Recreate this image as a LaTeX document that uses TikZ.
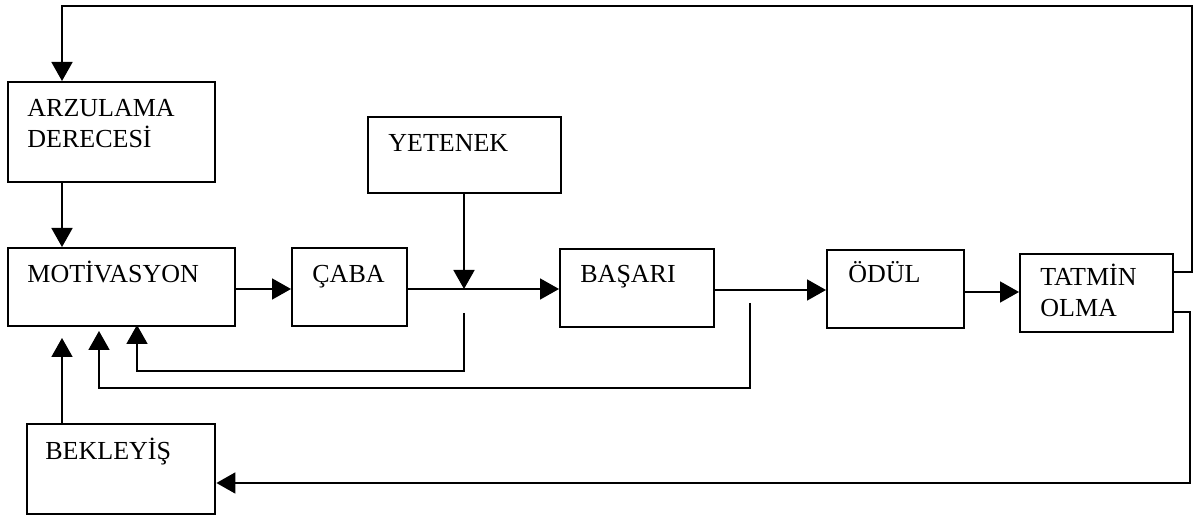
\documentclass[tikz,border=0pt]{standalone}
\usepackage{fontspec}
\setmainfont{Liberation Serif}
\usetikzlibrary{arrows.meta}
\begin{document}
\begin{tikzpicture}[x=0.5pt,y=-0.5pt,
  box/.style={draw,line width=1.2pt,rectangle,inner sep=0pt},
  lbl/.style={anchor=base west,inner sep=0pt,font=\fontsize{13pt}{15.5pt}\selectfont,align=left},
  con/.style={line width=0.9pt},
  arr/.style={con,-{Triangle[length=9.5pt,width=10.5pt]}}]
\useasboundingbox (0,0) rectangle (1195,517);
% boxes
\node[box,minimum width=207pt*0.5,minimum height=100pt*0.5,anchor=north west] (arz) at (7,81) {};
\node[box,minimum width=227pt*0.5,minimum height=78pt*0.5,anchor=north west] (mot) at (7,247) {};
\node[box,minimum width=115pt*0.5,minimum height=78pt*0.5,anchor=north west] (cab) at (291,247) {};
\node[box,minimum width=193pt*0.5,minimum height=76pt*0.5,anchor=north west] (yet) at (367,116) {};
\node[box,minimum width=154pt*0.5,minimum height=78pt*0.5,anchor=north west] (bas) at (559,248) {};
\node[box,minimum width=137pt*0.5,minimum height=78pt*0.5,anchor=north west] (odu) at (826,249) {};
\node[box,minimum width=153pt*0.5,minimum height=78pt*0.5,anchor=north west] (tat) at (1019,253) {};
\node[box,minimum width=188pt*0.5,minimum height=90pt*0.5,anchor=north west] (bek) at (26,423) {};
% labels (base = baseline of the last line)
\node[lbl] (tarz) at (27,148) {ARZULAMA\\DERECESİ};
\node[lbl] (tmot) at (27,283) {MOTİVASYON};
\node[lbl] (tcab) at (312,283) {ÇABA};
\node[lbl] (tyet) at (388,152) {YETENEK};
\node[lbl] (tbas) at (580,283) {BAŞARI};
\node[lbl] (todu) at (848,283) {ÖDÜL};
\node[lbl] (ttat) at (1040,317) {TATMİN\\OLMA};
\node[lbl] (tbek) at (45,460) {BEKLEYİŞ};
% coordinates
\coordinate (j1) at (464,289);
\coordinate (f1a) at (464,313);
\coordinate (f2a) at (750,303);
% main chain
\draw[arr] (mot.east |- 0,289) -- (cab.west |- 0,289);
\draw[con] (cab.east |- 0,289) -- (j1);
\draw[arr] (j1) -- (bas.west |- 0,289);
\draw[arr] (yet.south -| j1) -- (j1);
\draw[arr] (bas.east |- 0,290) -- (odu.west |- 0,290);
\draw[arr] (odu.east |- 0,292) -- (tat.west |- 0,292);
\draw[arr] (arz.south -| 62,0) -- (mot.north -| 62,0);
\draw[arr] (bek.north -| 62,0) -- (62,338);
% feedback loops
\draw[arr] (f1a) -- (464,371) -- (137,371) -- (137,325);
\draw[arr] (f2a) -- (750,388) -- (99,388) -- (99,331);
\draw[arr] (tat.east |- 0,272) -- (1192,272) -- (1192,6) -- (62,6) -- (arz.north -| 62,0);
\draw[arr] (tat.east |- 0,312) -- (1190,312) -- (1190,483) -- (bek.east |- 0,483);
\end{tikzpicture}
\end{document}
